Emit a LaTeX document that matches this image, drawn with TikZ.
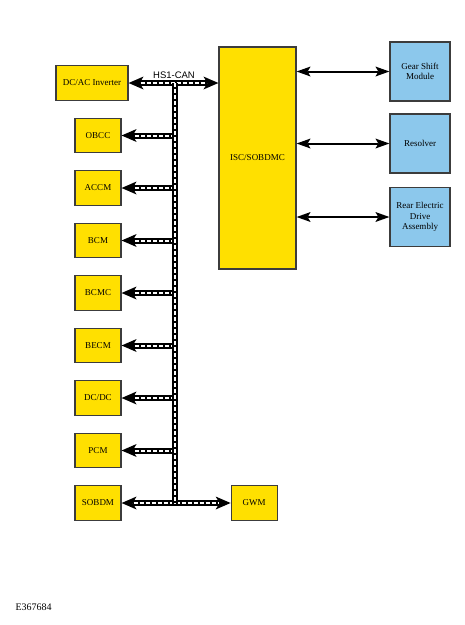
\documentclass[tikz,border=0pt]{standalone}
\usepackage{fontspec}
\setmainfont{Liberation Serif}
\newfontfamily\busfont{Liberation Sans}
\usepackage{xcolor}
\usetikzlibrary{arrows.meta,positioning}

\definecolor{ecuyellow}{RGB}{255,224,0}
\definecolor{extblue}{RGB}{140,200,236}
\definecolor{boxgray}{RGB}{60,60,60}

\tikzset{
    canhead/.tip={Stealth[length=15pt,width=13pt,inset=4pt,line width=0pt]},
    linkhead/.tip={Stealth[length=14pt,width=10pt,inset=3pt,line width=0pt]}
}

\begin{document}
\begin{tikzpicture}[x=1pt, y=-1pt,
    node distance=16.8pt,
    ecu/.style={rectangle, draw=boxgray, line width=1.2pt, fill=ecuyellow, minimum width=46pt, minimum height=34.5pt, align=center, inner sep=1pt, font=\fontsize{9}{10.5}\selectfont},
    ext/.style={ecu, fill=extblue, minimum width=60pt, minimum height=59pt},
    busline/.style={line width=6pt, black},
    buswhite/.style={draw=white, line width=2pt, dash pattern=on 4pt off 2pt, arrows=-},
    bus/.style={busline, postaction={buswhite}},
    busarrow/.style={busline, -{canhead}, postaction={buswhite, shorten >=12pt}},
    busboth/.style={busline, {canhead}-{canhead}, postaction={buswhite, shorten >=12pt, shorten <=12pt}},
    link/.style={line width=2pt, black, {linkhead}-{linkhead}}
]
\useasboundingbox (0,0) rectangle (465,625);

% left column
\node[ecu, minimum width=72pt] (dcac) at (92,83) {DC/AC Inverter};
\node[ecu] (obcc) at (98,135.5) {OBCC};
\node[ecu, below=of obcc] (accm) {ACCM};
\node[ecu, below=of accm] (bcm) {BCM};
\node[ecu, below=of bcm] (bcmc) {BCMC};
\node[ecu, below=of bcmc] (becm) {BECM};
\node[ecu, below=of becm] (dcdc) {DC/DC};
\node[ecu, below=of dcdc] (pcm) {PCM};
\node[ecu, below=of pcm] (sobdm) {SOBDM};
\node[ecu, right=109pt of sobdm] (gwm) {GWM};

% main module and external parts
\node[ecu, minimum width=77pt, minimum height=222pt] (isc) at (257.5,158) {ISC/SOBDMC};
\node[ext] (gsm) at (420,71.5) {Gear Shift\\Module};
\node[ext] (resolver) at (420,143.5) {Resolver};
\node[ext] (reda) at (420,217) {Rear Electric\\Drive\\Assembly};

\coordinate (bustop) at (174.5,83);
\coordinate (busbot) at (174.5,504);
\node[font=\busfont\fontsize{9.5}{11}\selectfont] (canlbl) at (174,75) {HS1-CAN};
\node[anchor=west, font=\fontsize{10}{12}\selectfont] (figid) at (12,607) {E367684};

% HS1-CAN
\draw[busboth] (dcac.east) -- (isc.west |- dcac);
\draw[busboth] (sobdm.east) -- (gwm.west |- sobdm);
\foreach \m in {obcc,accm,bcm,bcmc,becm,dcdc,pcm}
    \draw[busarrow] (bustop |- \m) -- (\m.east);
\draw[bus] (bustop) -- (busbot);

% links to the ISC
\draw[link] (isc.east |- gsm) -- (gsm.west);
\draw[link] (isc.east |- resolver) -- (resolver.west);
\draw[link] (isc.east |- reda) -- (reda.west);
\end{tikzpicture}
\end{document}
